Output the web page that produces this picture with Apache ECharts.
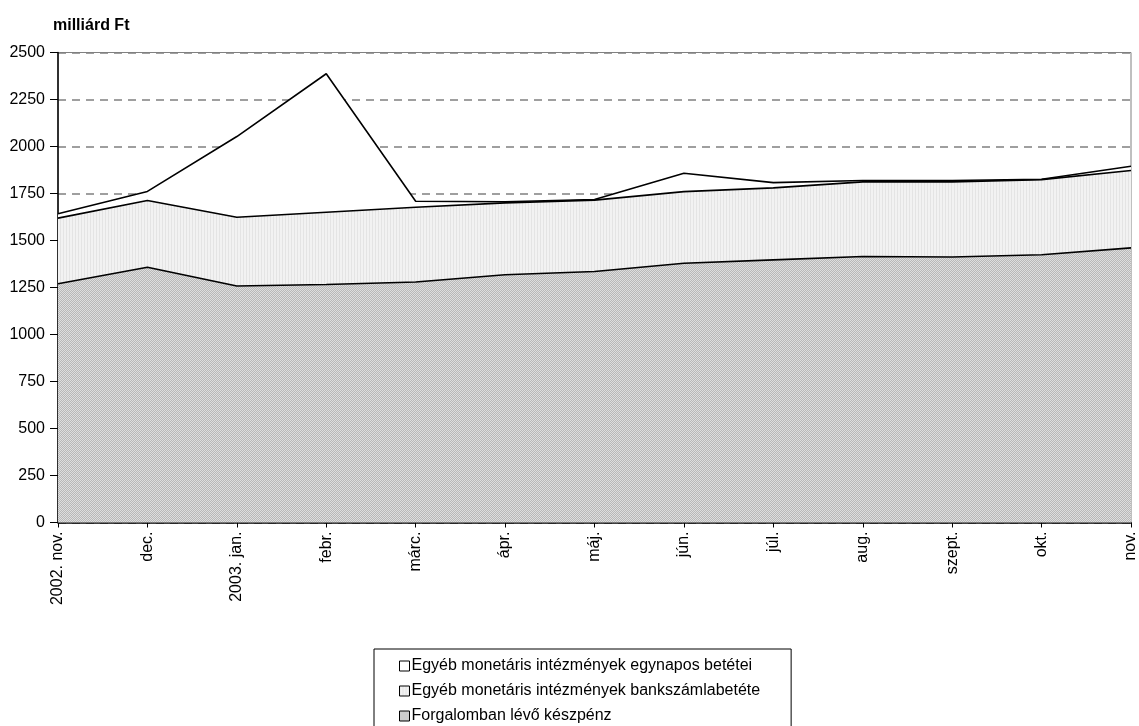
<!DOCTYPE html>
<html>
<head>
<meta charset="utf-8">
<script src="https://cdn.jsdelivr.net/npm/echarts@6/dist/echarts.min.js"></script>
<style>
html,body{margin:0;padding:0;background:#fff;}
#c{width:1139px;height:726px;}
</style>
</head>
<body>
<div id="c"></div>
<script>
const categories = ['2002. nov.','dec.','2003. jan.','febr.','márc.','ápr.','máj.','jún.','júl.','aug.','szept.','okt.','nov.'];
const keszpenz   = [1270, 1358, 1258, 1266, 1279, 1318, 1335, 1379, 1397, 1415, 1412, 1424, 1461];
const bankszamla = [349, 355, 366, 384, 398, 382, 380, 381, 383, 397, 400, 400, 411];
const egynapos   = [23, 48, 429, 737, 32, 6, 3, 98, 28, 7, 7, 2, 23];
const yTicks = [0, 250, 500, 750, 1000, 1250, 1500, 1750, 2000, 2250, 2500];
const names = ['Egyéb monetáris intézmények egynapos betétei','Egyéb monetáris intézmények bankszámlabetéte','Forgalomban lévő készpénz'];

function hatch(){
  const c = document.createElement('canvas'); c.width = 4; c.height = 4;
  const g = c.getContext('2d');
  g.fillStyle = '#dedede'; g.fillRect(0,0,4,4);
  g.fillStyle = '#b8b8b8';
  for (let i=0;i<4;i++){ g.fillRect(i,(3-i),1,1); g.fillRect(i,(5-i)%4,1,1); }
  return {image:c, repeat:'repeat'};
}
function stripes(){
  const c = document.createElement('canvas'); c.width = 3; c.height = 2;
  const g = c.getContext('2d');
  g.fillStyle = '#f2f2f2'; g.fillRect(0,0,3,2);
  g.fillStyle = '#e4e4e4'; g.fillRect(0,0,1,2);
  return {image:c, repeat:'repeat'};
}
const pHatch = hatch(), pStripe = stripes();
const font = '"Liberation Sans", Arial, sans-serif';

const chart = echarts.init(document.getElementById('c'), null, {renderer:'canvas'});
const lineStyle = {color:'#000', width:1.6};
chart.setOption({
  animation:false,
  title:{text:'milliárd Ft', left:53, top:18, padding:0, textStyle:{fontFamily:font, fontSize:16, fontWeight:'bold', color:'#000'}},
  grid:{left:58, right:6, top:52.5, bottom:203.5, show:true, borderColor:'#808080', borderWidth:1, backgroundColor:'transparent'},
  legend:{
    orient:'vertical', left:374, top:649, height:200, icon:'rect', itemWidth:10, itemHeight:10, itemGap:9,
    padding:[9,31,14,25], borderColor:'#000', borderWidth:1,
    textStyle:{fontFamily:font, fontSize:16, color:'#000', padding:[0,0,0,-3]},
    data:[
      {name:names[0], itemStyle:{color:'#fff', borderColor:'#000', borderWidth:1}},
      {name:names[1], itemStyle:{color:pStripe, borderColor:'#000', borderWidth:1}},
      {name:names[2], itemStyle:{color:pHatch, borderColor:'#000', borderWidth:1}}
    ]
  },
  xAxis:{
    type:'category', data:categories, boundaryGap:false,
    axisLine:{lineStyle:{color:'#000', width:1.5}},
    axisTick:{show:true, length:5, lineStyle:{color:'#000'}},
    axisLabel:{rotate:90, margin:9, fontFamily:font, fontSize:16, color:'#000', interval:0},
    splitLine:{show:false}
  },
  yAxis:{
    type:'value', min:0, max:2500, interval:250,
    axisLine:{show:true, lineStyle:{color:'#000', width:1.5}},
    axisTick:{show:true, length:8, lineStyle:{color:'#000'}},
    axisLabel:{margin:13, fontFamily:font, fontSize:16, color:'#000',
      formatter:function(v){ return yTicks.indexOf(v)>=0 ? String(v) : ''; }},
    splitLine:{show:true, lineStyle:{color:'#808080', width:1.5, type:[8,6]}}
  },
  series:[
    {name:names[2], type:'line', stack:'t', data:keszpenz, symbol:'none', lineStyle:lineStyle, areaStyle:{color:pHatch, opacity:1}, itemStyle:{color:'#000'}},
    {name:names[1], type:'line', stack:'t', data:bankszamla, symbol:'none', lineStyle:lineStyle, areaStyle:{color:pStripe, opacity:1}, itemStyle:{color:'#000'}},
    {name:names[0], type:'line', stack:'t', data:egynapos, symbol:'none', lineStyle:lineStyle, areaStyle:{color:'#fff', opacity:1}, itemStyle:{color:'#000'}}
  ]
});
</script>
</body>
</html>
